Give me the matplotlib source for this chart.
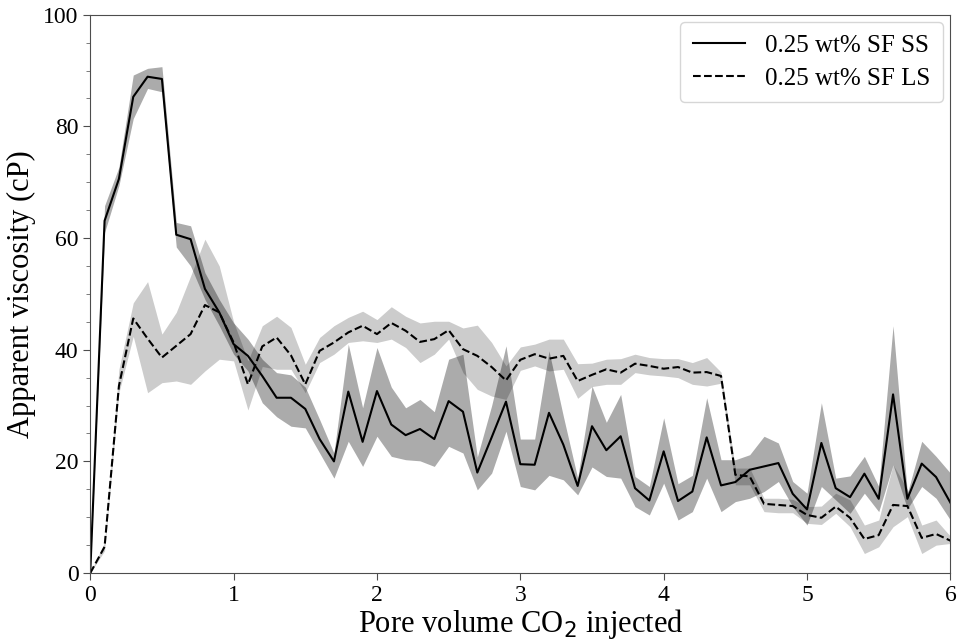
import matplotlib
matplotlib.use("Agg")
import matplotlib.pyplot as plt
import numpy as np
from matplotlib.ticker import MultipleLocator

plt.rcParams["font.family"] = ["Liberation Serif", "DejaVu Serif"]

# pore volume of CO2 injected
pv = np.round(np.arange(0, 6.01, 0.1), 1)

# 0.25 wt% SF SS: mean apparent viscosity and min/max envelope (cP)
ss_mean = [0, 63.1, 70.6, 85.3, 88.9, 88.5, 60.6, 59.8, 50.9, 46.7,
           41.0, 38.9, 35.3, 31.4, 31.4, 29.4, 24.0, 20.0, 32.5, 23.5,
           32.6, 26.6, 24.7, 25.8, 24.0, 30.8, 28.9, 18.0, 24.3, 30.7,
           19.5, 19.4, 28.7, 23.0, 15.6, 26.3, 22.0, 24.5, 15.2, 13.0,
           21.8, 12.9, 14.6, 24.3, 15.7, 16.3, 18.5, 19.1, 19.7, 14.2,
           11.4, 23.3, 15.2, 13.6, 17.8, 13.3, 32.0, 13.3, 19.6, 17.2,
           12.6]
ss_low = [0, 61.0, 69.4, 81.4, 86.8, 86.2, 58.4, 55.0, 49.0, 44.3,
          39.2, 36.2, 30.5, 28.0, 26.3, 26.0, 21.5, 17.0, 23.6, 19.1,
          24.5, 20.9, 20.3, 20.1, 19.1, 22.7, 21.5, 14.9, 17.9, 25.4,
          15.5, 14.9, 17.5, 16.7, 14.0, 19.0, 17.3, 17.0, 11.9, 10.4,
          16.1, 9.5, 11.0, 17.0, 11.0, 12.8, 13.4, 14.6, 16.4, 11.9,
          8.6, 15.5, 13.1, 10.7, 14.3, 11.0, 19.4, 11.5, 15.5, 13.4,
          9.5]
ss_high = [0, 65.8, 72.7, 89.2, 90.4, 90.7, 62.8, 62.2, 53.8, 49.0,
           44.8, 41.9, 38.3, 35.9, 35.5, 33.3, 27.5, 21.5, 41.0, 29.6,
           40.4, 33.3, 29.6, 31.1, 28.9, 38.3, 39.2, 20.8, 30.0, 40.7,
           24.0, 24.0, 39.8, 28.1, 17.0, 33.5, 27.0, 32.0, 17.3, 15.5,
           27.8, 16.0, 17.5, 31.4, 20.3, 20.3, 21.2, 24.5, 23.3, 16.4,
           14.3, 30.5, 17.0, 17.4, 20.9, 15.5, 44.3, 14.3, 23.6, 20.9,
           17.9]

# 0.25 wt% SF LS
ls_mean = [0, 4.7, 33.5, 45.6, 42.0, 38.6, 40.7, 42.8, 48.0, 46.7,
           41.3, 33.8, 40.6, 42.2, 39.0, 33.8, 39.8, 41.3, 43.1, 44.3,
           42.8, 44.8, 43.4, 41.4, 41.9, 43.5, 40.1, 38.9, 36.9, 34.5,
           38.2, 39.2, 38.4, 38.9, 34.4, 35.5, 36.5, 35.9, 37.5, 37.1,
           36.6, 36.9, 35.9, 36.0, 35.3, 17.6, 17.3, 12.4, 12.2, 12.0,
           10.4, 9.9, 11.9, 9.9, 6.1, 6.8, 12.2, 12.0, 6.3, 7.0,
           5.8]
ls_low = [0, 4.0, 32.3, 42.4, 32.3, 34.1, 34.4, 33.8, 36.2, 38.3,
          38.0, 29.2, 37.0, 36.5, 36.5, 32.3, 37.7, 39.2, 41.3, 41.6,
          41.3, 41.9, 40.4, 37.7, 39.2, 41.9, 35.9, 32.9, 31.7, 31.1,
          36.3, 37.1, 36.2, 36.5, 31.3, 33.4, 33.8, 33.8, 35.9, 35.5,
          35.3, 35.0, 33.8, 33.5, 34.0, 15.8, 15.8, 11.0, 10.8, 10.8,
          8.9, 8.7, 10.7, 8.3, 3.5, 4.7, 8.3, 10.1, 3.5, 5.0,
          5.3]
ls_high = [0, 5.5, 36.5, 48.4, 52.2, 42.8, 46.7, 53.2, 59.8, 55.0,
           45.0, 38.0, 44.3, 46.0, 44.0, 37.4, 42.2, 44.3, 45.8, 46.9,
           45.4, 47.7, 46.0, 44.8, 45.1, 45.1, 43.9, 44.4, 41.3, 37.1,
           40.5, 41.0, 41.9, 41.9, 37.5, 37.6, 38.3, 38.4, 39.2, 38.6,
           38.4, 38.4, 37.7, 38.6, 36.0, 18.8, 18.8, 13.4, 13.4, 13.2,
           11.9, 12.0, 14.3, 13.1, 8.6, 9.5, 19.4, 15.0, 8.6, 9.5,
           6.6]

fig = plt.figure(figsize=(9.6, 6.41), dpi=100)
ax = fig.add_axes([0.094, 0.106, 0.896, 0.871])

ax.fill_between(pv, ss_low, ss_high, color="black", alpha=0.33, linewidth=0)
ax.fill_between(pv, ls_low, ls_high, color="black", alpha=0.2, linewidth=0)
ax.plot(pv, ss_mean, color="black", linewidth=1.5, label="0.25 wt% SF SS")
ax.plot(pv, ls_mean, color="black", linewidth=1.5, linestyle="--",
        label="0.25 wt% SF LS")

ax.set_xlim(0, 6)
ax.set_ylim(0, 100)
ax.yaxis.set_major_locator(MultipleLocator(20))
ax.yaxis.set_minor_locator(MultipleLocator(5))
ax.tick_params(axis="both", which="major", labelsize=17, length=5,
               color="0.3")
ax.tick_params(axis="y", which="minor", length=3, color="0.4")
for s in ax.spines.values():
    s.set_color("0.3")

ax.set_xlabel("Pore volume CO$_2$ injected", fontsize=22, labelpad=1)
ax.set_ylabel("Apparent viscosity (cP)", fontsize=22, labelpad=5)

ax.legend(loc="upper right", fontsize=18, handlelength=2.1,
          borderpad=0.5, labelspacing=0.4, borderaxespad=0.3,
          fancybox=True)

fig.savefig("out.png", dpi=100)
